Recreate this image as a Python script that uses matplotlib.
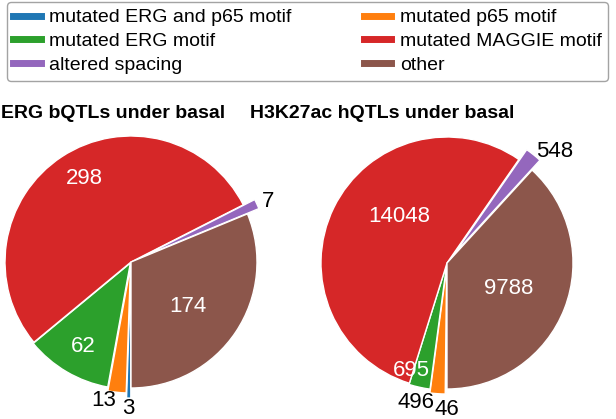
import matplotlib
matplotlib.use('Agg')
import matplotlib.pyplot as plt
from matplotlib.lines import Line2D
import numpy as np

plt.rcParams['font.family'] = ['Liberation Sans', 'DejaVu Sans']

categories = ['mutated ERG and p65 motif', 'mutated p65 motif', 'mutated ERG motif',
              'mutated MAGGIE motif', 'altered spacing', 'other']
colors = ['#1f77b4', '#ff7f0e', '#2ca02c', '#d62728', '#9467bd', '#8c564b']

erg_counts = [3, 13, 62, 298, 7, 174]
h3k_counts = [46, 496, 695, 14048, 548, 9788]

titles = ['ERG bQTLs under basal', 'H3K27ac hQTLs under basal']

# label placement per slice: (distance from wedge centre, fraction along wedge, text colour)
erg_labels = [(1.08, 0.5, 'k'), (1.08, 1.1, 'k'), (0.76, 0.48, 'w'),
              (0.76, 0.52, 'w'), (1.09, 0.76, 'k'), (0.57, 0.54, 'w')]
h3k_labels = [(1.12, 0.0, 'k'), (1.095, 1.73, 'k'), (0.89, 1.12, 'w'),
              (0.53, 0.59, 'w'), (1.13, 1.29, 'k'), (0.53, 0.51, 'w')]

erg_explode = [0.08, 0.04, 0.01, 0, 0.1, 0]
h3k_explode = [0.04, 0.04, 0.01, 0, 0.1, 0]

W, H = 616, 419
fig = plt.figure(figsize=(W / 100, H / 100), dpi=100)


def draw_pie(cx, cy, counts, explode, labels):
    r = 126
    ax = fig.add_axes([(cx - r) / W, (H - cy - r) / H, 2 * r / W, 2 * r / H])
    wedges, _ = ax.pie(counts, colors=colors, explode=explode, startangle=-90,
                       counterclock=False, radius=1,
                       wedgeprops=dict(edgecolor='white', linewidth=1))
    for w in wedges:
        w.set_clip_on(False)
    for w, n, (d, f, c) in zip(wedges, counts, labels):
        # clockwise: wedge starts at theta2 and ends at theta1
        ang = np.deg2rad(w.theta2 - f * (w.theta2 - w.theta1))
        x0, y0 = w.center
        ax.text(x0 + d * np.cos(ang), y0 + d * np.sin(ang), str(n),
                ha='center', va='center', fontsize=16, color=c)
    ax.set_xlim(-1, 1)
    ax.set_ylim(-1, 1)
    ax.set_aspect('equal')
    ax.axis('off')
    return ax


draw_pie(131, 262, erg_counts, erg_explode, erg_labels)
draw_pie(447, 263, h3k_counts, h3k_explode, h3k_labels)

fig.text(113 / W, 1 - 113 / H, titles[0], ha='center', va='center',
         fontsize=14, fontweight='bold')
fig.text(382 / W, 1 - 113 / H, titles[1], ha='center', va='center',
         fontsize=14, fontweight='bold')

# legend fills column-wise, so reorder to get the row layout
order = [0, 2, 4, 1, 3, 5]
handles = [Line2D([], [], color=colors[i], lw=5) for i in order]
leg = fig.legend(handles, [categories[i] for i in order], ncol=2,
                 loc='upper center', bbox_to_anchor=(307.5 / W, 1 - 2 / H),
                 fontsize=14, handlelength=1.4, handletextpad=0.45,
                 columnspacing=3.7, borderaxespad=0, fancybox=True,
                 borderpad=0.35, labelspacing=0.32)
leg.get_frame().set_edgecolor('0.55')
leg.get_frame().set_linewidth(1)

fig.savefig('out.png', dpi=100)
